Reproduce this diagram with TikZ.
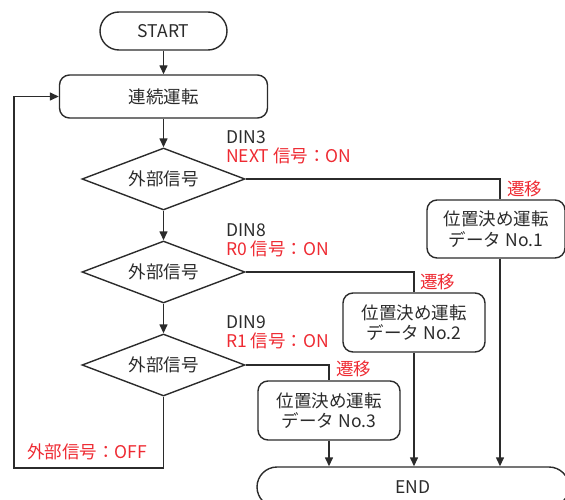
\documentclass[tikz,border=0pt]{standalone}
\usepackage{fontspec}
\setmainfont{Noto Sans CJK JP}
\usetikzlibrary{arrows.meta,shapes.geometric}
\definecolor{ink}{HTML}{2B2B2B}
\definecolor{sigred}{HTML}{EE2A32}

\tikzset{
  every node/.style={text=ink, font=\fontsize{17.5}{20.5}\selectfont},
  term/.style={draw=ink, line width=1.4pt, rounded corners=19pt, minimum height=38pt},
  proc/.style={draw=ink, line width=1.4pt, rounded corners=10pt, align=center},
  cond/.style={draw=ink, line width=1.4pt, diamond, shape aspect=2.6, inner sep=0pt,
    minimum width=163pt, minimum height=62pt},
  flow/.style={draw=ink, line width=1.4pt},
  arr/.style={flow, -{Triangle[length=9pt,width=8pt]}},
  note/.style={anchor=base west, inner sep=0pt},
  sig/.style={note, text=sigred},
}

\begin{document}
\begin{tikzpicture}[x=1pt,y=-1pt]
\useasboundingbox (0,0) rectangle (565,500);

% main column
\node[term, minimum width=127pt] (start) at (163.5,31) {START};
\node[proc, minimum width=208pt, minimum height=43pt] (run) at (163.5,96.5) {連続運転};
\node[cond] (d1) at (163.5,179) {外部信号};
\node[cond] (d2) at (163.5,272) {外部信号};
\node[cond] (d3) at (163.5,365) {外部信号};

% position data boxes
\node[proc, minimum width=138pt, minimum height=58pt] (b1) at (496,229) {位置決め運転\\データ No.1};
\node[proc, minimum width=142pt, minimum height=59pt] (b2) at (414,322.5) {位置決め運転\\データ No.2};
\node[proc, minimum width=142pt, minimum height=59pt] (b3) at (329,410.5) {位置決め運転\\データ No.3};
\node[term, minimum width=312pt, minimum height=40pt, rounded corners=20pt] (stop) at (413,487) {END};

% signal labels
\node[note] (din3) at (226,144) {DIN3};
\node[sig] (next) at (226,163) {NEXT 信号：ON};
\node[note] (din8) at (226,236) {DIN8};
\node[sig] (rzero) at (226,255) {R0 信号：ON};
\node[note] (din9) at (226,328) {DIN9};
\node[sig] (rone) at (226,347) {R1 信号：ON};
\node[sig] (go1) at (507,195) {遷移};
\node[sig] (go2) at (420,288) {遷移};
\node[sig] (go3) at (336,375) {遷移};
\node[sig] (off) at (27,458) {外部信号：OFF};

% connectors
\draw[arr] (start) -- (run);
\draw[arr] (run) -- (d1);
\draw[arr] (d1) -- (d2);
\draw[arr] (d2) -- (d3);
\draw[flow] (d1.east) -| ([xshift=4pt]b1.north);
\draw[flow] (d2.east) -| (b2.north);
\draw[flow] (d3.east) -| (b3.north);
\draw[arr] ([xshift=4pt]b1.south) -- ([xshift=4pt]b1.south |- stop.north);
\draw[arr] (b2.south) -- (b2.south |- stop.north);
\draw[arr] (b3.south) -- (b3.south |- stop.north);
\coordinate (back) at (14,468);
\draw[arr] (d3.south) |- (back) |- (run.west);
\end{tikzpicture}
\end{document}
